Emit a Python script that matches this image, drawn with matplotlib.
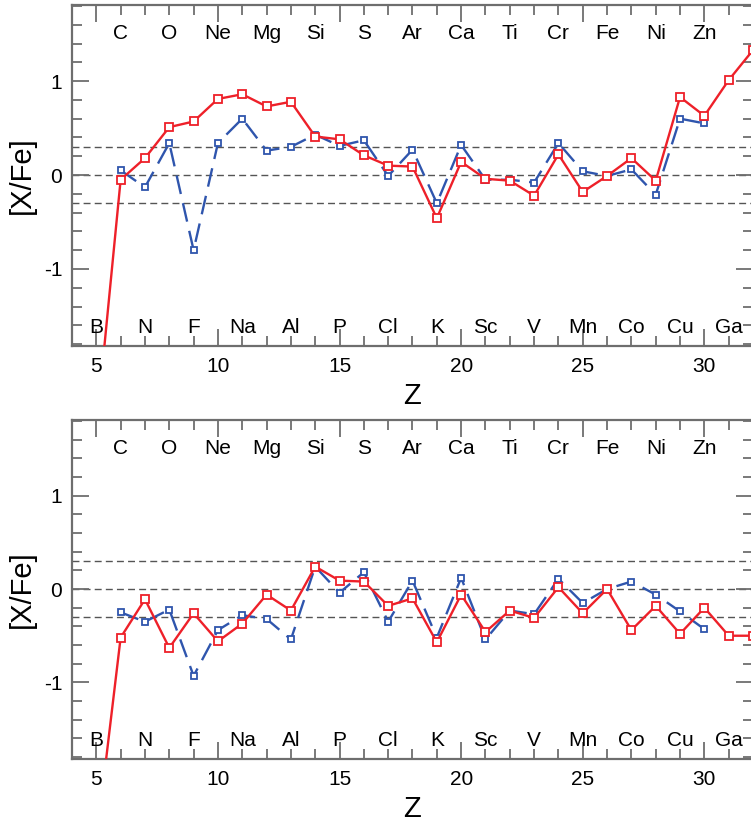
import numpy as np
import matplotlib
matplotlib.use("Agg")
import matplotlib.pyplot as plt
from matplotlib.ticker import MultipleLocator

plt.rcParams['font.family'] = ['Liberation Sans', 'DejaVu Sans']
plt.rcParams['axes.unicode_minus'] = False

# atomic numbers and element symbols
z_red = list(range(5, 33))
z_blue = list(range(6, 31))
elements = ['B', 'C', 'N', 'O', 'F', 'Ne', 'Na', 'Mg', 'Al', 'Si', 'P', 'S', 'Cl', 'Ar',
            'K', 'Ca', 'Sc', 'Ti', 'V', 'Cr', 'Mn', 'Fe', 'Co', 'Ni', 'Cu', 'Zn', 'Ga']

# [X/Fe] upper panel
top_red = [-2.7, -0.05, 0.18, 0.51, 0.57, 0.81, 0.86, 0.73, 0.78, 0.41, 0.38, 0.21, 0.10, 0.09,
           -0.46, 0.14, -0.04, -0.06, -0.22, 0.22, -0.18, -0.01, 0.18, -0.06, 0.83, 0.63, 1.01, 1.33]
top_blue = [0.05, -0.13, 0.34, -0.80, 0.34, 0.60, 0.26, 0.30, 0.43, 0.31, 0.37, -0.01, 0.27,
            -0.30, 0.32, -0.05, -0.05, -0.08, 0.34, 0.04, -0.01, 0.06, -0.21, 0.60, 0.55]

# [X/Fe] lower panel
bot_red = [-2.7, -0.52, -0.11, -0.63, -0.26, -0.56, -0.37, -0.06, -0.23, 0.24, 0.09, 0.08, -0.18,
           -0.10, -0.57, -0.06, -0.46, -0.23, -0.31, 0.02, -0.26, 0.00, -0.44, -0.18, -0.48,
           -0.20, -0.50, -0.50]
bot_blue = [-0.25, -0.35, -0.22, -0.93, -0.44, -0.28, -0.32, -0.54, 0.24, -0.04, 0.18, -0.35,
            0.09, -0.52, 0.12, -0.54, -0.23, -0.27, 0.11, -0.15, 0.00, 0.08, -0.06, -0.24, -0.43]

RED = '#ee2029'
BLUE = '#2f55ad'
GREY = '#6e6e6e'

fig = plt.figure(figsize=(7.51, 8.22), dpi=100)
ax_top = fig.add_axes([72 / 751, 1 - 346 / 822, 681 / 751, 341 / 822])
ax_bot = fig.add_axes([72 / 751, 1 - 759 / 822, 681 / 751, 339 / 822])


def panel(ax, red, blue):
    for yl in (0.3, 0.0, -0.3):
        ax.axhline(yl, color='#555555', lw=1.0, ls=(0, (5, 3)), zorder=1)
    ax.plot(z_blue, blue, color=BLUE, lw=1.7, dashes=(8, 4), marker='s', ms=5,
            mfc='white', mec=BLUE, mew=1.3, zorder=3)
    ax.plot(z_red, red, color=RED, lw=1.7, marker='s', ms=5.5,
            mfc='white', mec=RED, mew=1.3, zorder=4)

    for i, el in enumerate(elements):
        z = 5 + i
        y = 1.51 if z % 2 == 0 else -1.62
        ax.text(z, y, el, ha='center', va='center', fontsize=15, color='black', zorder=5)

    ax.set_xlim(4, 32)
    ax.set_ylim(-1.82, 1.81)
    ax.xaxis.set_major_locator(MultipleLocator(5))
    ax.xaxis.set_minor_locator(MultipleLocator(1))
    ax.yaxis.set_major_locator(MultipleLocator(1))
    ax.yaxis.set_minor_locator(MultipleLocator(0.2))
    ax.tick_params(which='both', direction='in', top=True, right=True, color=GREY,
                   width=1.3, labelsize=15)
    ax.tick_params(axis='x', pad=8)
    ax.tick_params(axis='y', pad=7)
    ax.tick_params(which='major', length=12)
    ax.tick_params(which='minor', length=7)
    for s in ax.spines.values():
        s.set_color(GREY)
        s.set_linewidth(1.6)
    ax.set_xlabel('Z', fontsize=21, labelpad=4)
    ax.set_ylabel('[X/Fe]', fontsize=21, labelpad=6)


panel(ax_top, top_red, top_blue)
panel(ax_bot, bot_red, bot_blue)

fig.savefig('out.png', dpi=100)
